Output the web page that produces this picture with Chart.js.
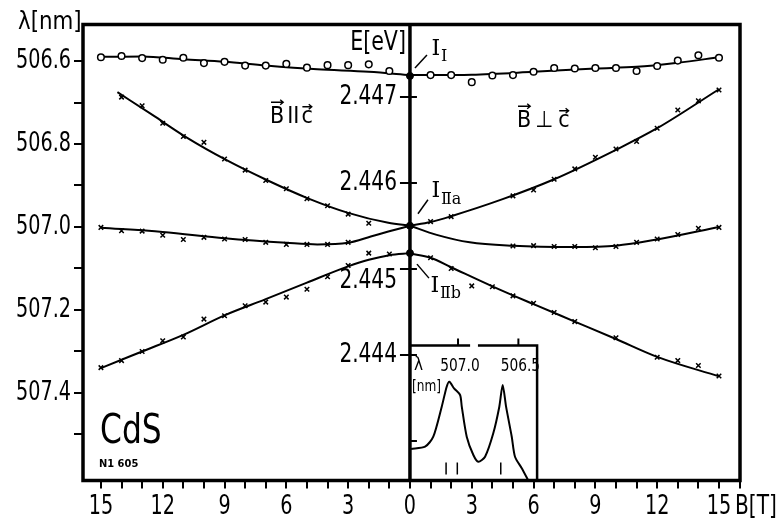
<!DOCTYPE html>
<html>
<head>
<meta charset="utf-8">
<script src="https://cdn.jsdelivr.net/npm/chart.js@4.4.1/dist/chart.umd.min.js"></script>
<style>
  html, body { margin: 0; padding: 0; background: #fff; }
</style>
</head>
<body>
<canvas id="mychart" width="783" height="532"></canvas>
<script>

// B[T]: negative side = B || c (left half), positive side = B ⊥ c (right half)
const circB = [-15,-14,-13,-12,-11,-10,-9,-8,-7,-6,-5,-4,-3,-2,-1, 1,2,3,4,5,6,7,8,9,10,11,12,13,14,15];
const circL = [506.591,506.588,506.593,506.597,506.592,506.605,506.602,506.611,506.611,506.607,506.616,506.610,506.610,506.608,506.624,
               506.634,506.634,506.651,506.635,506.634,506.626,506.617,506.618,506.617,506.617,506.624,506.612,506.599,506.586,506.592];
const upB = [-14,-13,-12,-11,-10,-9,-8,-7,-6,-5,-4,-3,-2, 1,2,5,6,7,8,9,10,11,12,13,14,15];
const upL = [506.687,506.708,506.750,506.782,506.796,506.836,506.863,506.888,506.908,506.932,506.949,506.969,506.991,
             506.987,506.975,506.925,506.911,506.885,506.860,506.832,506.812,506.794,506.762,506.718,506.696,506.670];
const midB = [-15,-14,-13,-12,-11,-10,-9,-8,-7,-6,-5,-4,-3, 5,6,7,8,9,10,11,12,13,14,15];
const midL = [507.001,507.009,507.010,507.020,507.030,507.025,507.029,507.030,507.037,507.042,507.042,507.042,507.037,
              507.046,507.045,507.047,507.047,507.050,507.047,507.037,507.029,507.018,507.003,507.001];
const lowB = [-15,-14,-13,-12,-11,-10,-9,-8,-7,-6,-5,-4,-3,-2,-1, 1,2,3,4,5,6,7,8,10,12,13,14,15];
const lowL = [507.339,507.322,507.300,507.274,507.265,507.222,507.214,507.190,507.181,507.169,507.150,507.120,507.093,507.063,507.065,
              507.074,507.100,507.142,507.144,507.166,507.184,507.206,507.228,507.267,507.314,507.322,507.334,507.359];
// lines at B = 0: I_I, I_IIa, I_IIb
const zeroL = [506.636, 506.997, 507.063];

// fitted curves [B, lambda]
const fitIleft  = [[-15,506.590],[-13,506.589],[-11,506.596],[-9,506.602],[-7,506.611],[-4.5,506.620],[-2,506.626],[0,506.634]];
const fitIright = [[0,506.634],[1,506.634],[3,506.633],[6,506.626],[9,506.618],[11,506.614],[13,506.604],[15,506.591]];
const fitUpLeft  = [[-14.2,506.675],[-12.5,506.730],[-10.85,506.784],[-8.9,506.839],[-6.9,506.888],[-4.95,506.931],[-3,506.966],[-1.05,506.990],[0,506.997]];
const fitUpRight = [[0,506.997],[1,506.988],[2,506.974],[4.5,506.933],[7,506.885],[10,506.814],[12,506.762],[15,506.668]];
const fitMidLeft  = [[-15,507.002],[-12,507.012],[-9,507.027],[-6,507.038],[-4.5,507.042],[-3,507.038],[-1.9,507.023],[-1.05,507.011],[0,506.997]];
const fitMidRight = [[0,506.997],[1.3,507.019],[2.9,507.037],[5,507.045],[7.9,507.048],[10,507.045],[12,507.030],[15,507.000]];
const fitLowLeft  = [[-15,507.340],[-13,507.300],[-11,507.260],[-9,507.213],[-7,507.174],[-5,507.134],[-3,507.095],[-2,507.079],[-1,507.068],[0,507.063]];
const fitLowRight = [[0,507.064],[1,507.074],[2,507.097],[4,507.143],[6,507.186],[8,507.228],[10,507.270],[12,507.313],[15,507.360]];

// tick labels
const lamTicks = [506.6, 506.8, 507.0, 507.2, 507.4];
const lamTickLabels = ['506.6', '506.8', '507.0', '507.2', '507.4'];
const bTicks = [-15, -12, -9, -6, -3, 0, 3, 6, 9, 12, 15];
const bTickLabels = ['15', '12', '9', '6', '3', '0', '3', '6', '9', '12', '15'];
// energy axis on the B = 0 line
const eTicks = [2.447, 2.446, 2.445, 2.444, 2.443];
const eLabels = ['2.447', '2.446', '2.445', '2.444', ''];

// inset spectrum: wavelength [nm] vs intensity
const specL = [507.389,507.273,507.205,507.135,507.094,507.072,507.033,506.983,506.969,506.928,506.873,506.832,506.776,506.708,506.658,506.630,506.602,506.555,506.528,506.472,506.418];
const specI = [0.315,0.338,0.438,0.738,0.938,0.988,0.922,0.855,0.738,0.438,0.255,0.188,0.238,0.472,0.738,0.955,0.738,0.438,0.238,0.122,0.0];
const insetTicks = [507.0, 506.5];
const insetTickLabels = ['507.0', '506.5'];
const insetMarks = [507.099, 507.006, 506.646];

const narrow = '"DejaVu Sans Condensed", "DejaVu Sans", sans-serif';
const serif = '"DejaVu Serif", "Liberation Serif", serif';

const pts = (xs, ys) => xs.map((b, i) => ({x: b, y: ys[i]}));
const pairs = arr => arr.map(p => ({x: p[0], y: p[1]}));

// text squeezed horizontally, to get the narrow drafting lettering
function txt(ctx, s, x, y, size, align, sx, base, family, weight) {
    ctx.save();
    ctx.font = (weight ? weight + ' ' : '') + size + 'px ' + (family || narrow);
    ctx.textAlign = align || 'left';
    ctx.textBaseline = base || 'middle';
    ctx.translate(x, y);
    ctx.scale(sx || 1, 1);
    ctx.fillText(s, 0, 0);
    ctx.restore();
}

// letters with a vector arrow on top
function vecText(ctx, items, x, baseline, size) {
    ctx.font = size + 'px ' + narrow;
    ctx.textAlign = 'left';
    ctx.textBaseline = 'alphabetic';
    let cx = x;
    items.forEach(it => {
        const w = ctx.measureText(it.t).width;
        ctx.fillText(it.t, cx, baseline);
        if (it.vec) {
            const top = baseline - it.h * size - 4;
            ctx.lineWidth = 1.4;
            ctx.beginPath();
            ctx.moveTo(cx + 1, top); ctx.lineTo(cx + w - 1, top);
            ctx.moveTo(cx + w - 4, top - 2.5); ctx.lineTo(cx + w - 1, top); ctx.lineTo(cx + w - 4, top + 2.5);
            ctx.stroke();
        }
        cx += w + (it.gap || 0);
    });
}

function lineLabel(ctx, px, py, sub, leader, dx, dy) {
    ctx.lineWidth = 1.5;
    ctx.beginPath();
    ctx.moveTo(px + leader[0], py + leader[1]);
    ctx.lineTo(px + leader[2], py + leader[3]);
    ctx.stroke();
    txt(ctx, 'I', px + dx, py + dy, 22, 'center', 1, 'middle', serif);
    txt(ctx, sub, px + dx + 5, py + dy + 8, 16, 'left', 1, 'middle', serif);
}

const decorations = {
    id: 'decorations',
    afterDraw(chart) {
        const {ctx, chartArea: a} = chart;
        const {x, y, yE, xi, yi} = chart.scales;
        const x0 = x.getPixelForValue(0);
        ctx.save();
        ctx.strokeStyle = '#000';
        ctx.fillStyle = '#000';

        // frame and the B = 0 line
        ctx.lineWidth = 3.5;
        ctx.strokeRect(a.left, a.top, a.right - a.left, a.bottom - a.top);
        ctx.beginPath(); ctx.moveTo(x0, a.top); ctx.lineTo(x0, a.bottom); ctx.stroke();

        // tick labels of the outer axes
        lamTicks.forEach((v, i) => txt(ctx, lamTickLabels[i], a.left - 12, y.getPixelForValue(v), 26, 'right', 0.82));
        bTicks.forEach((v, i) => txt(ctx, bTickLabels[i], x.getPixelForValue(v), a.bottom + 26.5, 26, 'center', 0.82));

        // E[eV] scale
        ctx.lineWidth = 2;
        eTicks.forEach((e, i) => {
            const py = yE.getPixelForValue(e);
            ctx.beginPath();
            ctx.moveTo(eLabels[i] ? x0 - 10 : x0, py); ctx.lineTo(x0 + 7, py);
            ctx.stroke();
            if (eLabels[i]) txt(ctx, eLabels[i], x0 - 13, py + (i === 2 ? 12 : 0), 26, 'right', 0.86);
        });
        txt(ctx, 'E[eV]', x0 - 4, y.getPixelForValue(506.557), 26, 'right', 0.88);

        // axis titles
        txt(ctx, 'λ[nm]', 18, 22, 25, 'left', 0.95);
        txt(ctx, 'B[T]', a.right - 5, a.bottom + 26.5, 26, 'left', 0.86);

        // field orientation
        vecText(ctx, [{t: 'B', vec: true, h: 0.73, gap: 3}, {t: 'II', gap: 2}, {t: 'c', vec: true, h: 0.53}], 270, 123, 23);
        vecText(ctx, [{t: 'B', vec: true, h: 0.73, gap: 4}, {t: '⊥', gap: 5}, {t: 'c', vec: true, h: 0.53}], 517, 127, 23);

        // line names at B = 0
        lineLabel(ctx, x0, y.getPixelForValue(zeroL[0]), 'I', [5, -8, 17, -21], 26, -27);
        lineLabel(ctx, x0, y.getPixelForValue(zeroL[1]), 'Ⅱa', [8, -12, 18, -26], 26, -34);
        lineLabel(ctx, x0, y.getPixelForValue(zeroL[2]), 'Ⅱb', [7, 11, 19, 25], 25, 33);

        txt(ctx, 'CdS', a.left + 17, a.bottom - 38, 41, 'left', 0.85, 'alphabetic');
        txt(ctx, 'N1 605', a.left + 16, a.bottom - 16, 11, 'left', 1, 'middle', narrow, 'bold');

        // inset frame
        const iR = xi.getPixelForValue(506.345);
        const iT = yi.getPixelForValue(1.35);
        const g1 = xi.getPixelForValue(506.90), g2 = xi.getPixelForValue(506.835);
        ctx.lineWidth = 2.5;
        ctx.beginPath();
        ctx.moveTo(x0, iT); ctx.lineTo(g1, iT);
        ctx.moveTo(g2, iT); ctx.lineTo(iR, iT); ctx.lineTo(iR, a.bottom);
        ctx.stroke();
        ctx.lineWidth = 2;
        insetTicks.forEach((l, i) => {
            const px = xi.getPixelForValue(l);
            ctx.beginPath(); ctx.moveTo(px, iT); ctx.lineTo(px, iT - 7); ctx.stroke();
            txt(ctx, insetTickLabels[i], px + 2, iT + 21, 18, 'center', 0.85);
        });
        txt(ctx, 'λ', x0 + 4, iT + 20, 17, 'left');
        txt(ctx, '[nm]', x0 + 2, iT + 42, 15, 'left', 0.9);
        ctx.lineWidth = 1.5;
        insetMarks.forEach(l => {
            const px = xi.getPixelForValue(l);
            ctx.beginPath(); ctx.moveTo(px, a.bottom - 18); ctx.lineTo(px, a.bottom - 6); ctx.stroke();
        });
        ctx.restore();
    }
};

const lineStyle = {showLine: true, borderColor: '#000', borderWidth: 2, pointRadius: 0, cubicInterpolationMode: 'monotone', order: 2};
const crossStyle = {pointStyle: 'crossRot', pointRadius: 3.2, borderColor: '#000', borderWidth: 1.5, order: 1};

const fits = [fitIleft, fitIright, fitUpLeft, fitUpRight, fitMidLeft, fitMidRight, fitLowLeft, fitLowRight];

const datasets = [
    {label: 'I_I', data: pts(circB, circL), pointStyle: 'circle', pointRadius: 3.3, borderWidth: 1.5,
     borderColor: '#000', backgroundColor: '#fff', order: 1},
    Object.assign({label: 'upper', data: pts(upB, upL)}, crossStyle),
    Object.assign({label: 'middle', data: pts(midB, midL)}, crossStyle),
    Object.assign({label: 'lower', data: pts(lowB, lowL)}, crossStyle),
    {label: 'B=0', data: zeroL.map(l => ({x: 0, y: l})), pointStyle: 'circle', pointRadius: 3.5,
     borderColor: '#000', backgroundColor: '#000', order: 0},
    {label: 'spectrum', data: pts(specL, specI), xAxisID: 'xi', yAxisID: 'yi', showLine: true,
     borderColor: '#000', borderWidth: 2, pointRadius: 0, tension: 0.25, order: 2}
].concat(fits.map((f, i) => Object.assign({label: 'fit' + i, data: pairs(f)}, lineStyle)));

const mychart = new Chart(document.getElementById('mychart').getContext('2d'), {
    type: 'scatter',
    data: {datasets},
    options: {
        responsive: false,
        animation: false,
        devicePixelRatio: 1,
        layout: {padding: {top: 24.5, right: 43, left: 0, bottom: 0}},
        plugins: {legend: {display: false}, tooltip: {enabled: false}},
        scales: {
            x: {
                type: 'linear', min: -15.87, max: 16.02,
                afterFit: s => { s.height = 51.5; },
                // marks every tesla; labels are drawn by the plugin
                ticks: {stepSize: 1, includeBounds: false, autoSkip: false, maxRotation: 0, callback: () => ''},
                grid: {drawOnChartArea: false, color: '#000', lineWidth: 2, tickLength: 8},
                border: {display: false}
            },
            y: {
                type: 'linear', reverse: true, min: 506.512, max: 507.611,
                afterFit: s => { s.width = 83; },
                ticks: {stepSize: 0.1, includeBounds: false, autoSkip: false,
                        callback: v => (v > 507.55 ? null : '')},
                grid: {drawOnChartArea: false, color: '#000', lineWidth: 2, tickLength: 9},
                border: {display: false}
            },
            yE: {axis: 'y', type: 'linear', display: false, min: 2.442541, max: 2.447843},
            xi: {axis: 'x', type: 'linear', display: false, reverse: true, min: 504.664, max: 510.107},
            yi: {axis: 'y', type: 'linear', display: false, min: 0, max: 4.56}
        }
    },
    plugins: [decorations]
});
</script>
</body>
</html>
